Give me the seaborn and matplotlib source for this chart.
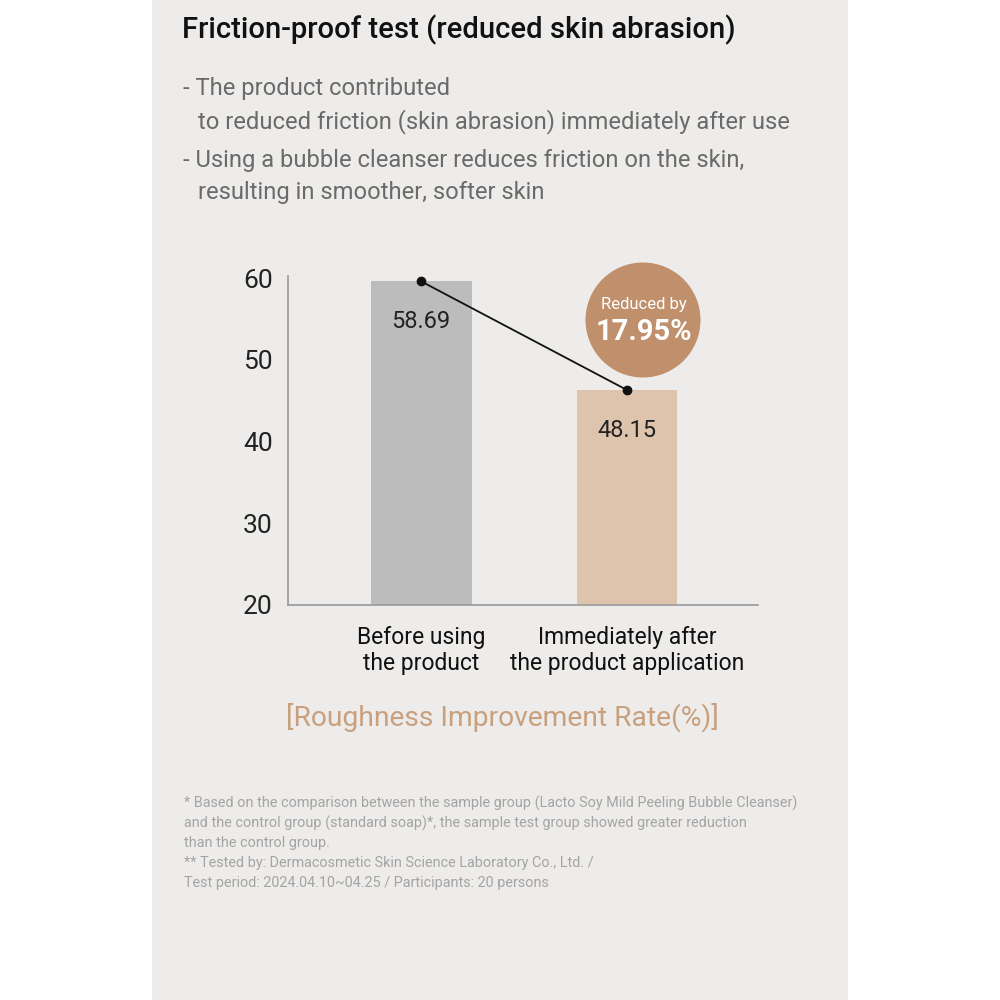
import matplotlib
matplotlib.use("Agg")
import matplotlib.pyplot as plt
from matplotlib.patches import Rectangle, Circle
import seaborn as sns
import pandas as pd

# ---- data ----
categories = ["Before using\nthe product", "Immediately after\nthe product application"]
bar_heights = [59.6, 46.3]          # bar tops as drawn in the picture
value_labels = ["58.69", "48.15"]   # printed values
bar_colors = ["#bcbcbc", "#dfc4ad"]
y_ticks = [20, 30, 40, 50, 60]
reduction_text = ["Reduced by", "17.95%"]
title = "Friction-proof test (reduced skin abrasion)"
bullets = [
    ("- The product contributed", 0),
    ("to reduced friction (skin abrasion) immediately after use", 1),
    ("- Using a bubble cleanser reduces friction on the skin,", 0),
    ("resulting in smoother, softer skin", 1),
]
metric_label = "[Roughness Improvement Rate(%)]"
footnotes = [
    "* Based on the comparison between the sample group (Lacto Soy Mild Peeling Bubble Cleanser)",
    "and the control group (standard soap)*, the sample test group showed greater reduction",
    "than the control group.",
    "** Tested by: Dermacosmetic Skin Science Laboratory Co., Ltd. /",
    "Test period: 2024.04.10~04.25 / Participants: 20 persons",
]

sns.set_theme(style="white")
plt.rcParams["font.family"] = ["Roboto", "DejaVu Sans"]

fig = plt.figure(figsize=(10, 10), dpi=100)
fig.patch.set_facecolor("white")
fig.patches.append(Rectangle((0.152, 0.0), 0.696, 1.0, transform=fig.transFigure,
                             facecolor="#edecea", edgecolor="none", zorder=-10))

ax = fig.add_axes([0.288, 0.395, 0.47, 0.329])
ax.set_facecolor("none")

df = pd.DataFrame({"cat": categories, "val": bar_heights})
sns.barplot(data=df, x="cat", y="val", hue="cat", palette=bar_colors,
            width=0.49, legend=False, ax=ax, saturation=1, linewidth=0,
            edgecolor="none")

ax.set_ylim(20, 60.25)
ax.set_xlim(-0.646, 1.636)
ax.set_yticks(y_ticks)
ax.set_yticklabels([str(t) for t in y_ticks], fontsize=19, color="#222222")
ax.set_xticks(range(len(categories)))
ax.set_xticklabels(categories, fontsize=16.5, color="#111111", linespacing=1.15)
ax.tick_params(axis="y", length=0, pad=11)
ax.tick_params(axis="x", length=0, pad=15)
ax.set_xlabel("")
ax.set_ylabel("")
for s in ["top", "right"]:
    ax.spines[s].set_visible(False)
for s in ["left", "bottom"]:
    ax.spines[s].set_color("#9a9a9a")
    ax.spines[s].set_linewidth(1.2)

# connecting line with dots on bar tops
ax.plot(range(len(categories)), bar_heights, color="#111111", lw=1.3,
        marker="o", ms=6, zorder=5, clip_on=False)

# value labels
for i, (h, lab) in enumerate(zip(bar_heights, value_labels)):
    ax.annotate(lab, xy=(i, h), xytext=(0, -29), textcoords="offset points",
                ha="center", va="center", fontsize=17, color="#222222")

# reduction bubble
fig.patches.append(Circle((0.643, 0.680), 0.0575, transform=fig.transFigure,
                          facecolor="#c08f6b", edgecolor="none", zorder=3))
fig.text(0.644, 0.696, reduction_text[0], ha="center", va="center",
         fontsize=12, color="white", zorder=4)
fig.text(0.644, 0.668, reduction_text[1], ha="center", va="center",
         fontsize=21, color="white", fontweight="bold", zorder=4)

# title and bullets
fig.text(0.182, 0.970, title, ha="left", va="center", fontsize=21.1,
         color="#111111", fontweight="medium")
bullet_y = [0.911, 0.878, 0.840, 0.808]
for (txt, indent), y in zip(bullets, bullet_y):
    fig.text(0.183 + 0.015 * indent, y, txt, ha="left", va="center",
             fontsize=17.1, color="#6a6a6a")

fig.text(0.286, 0.283, metric_label, ha="left", va="center", fontsize=20.3,
         color="#c8a07e")

foot_y = [0.197, 0.177, 0.157, 0.137, 0.117]
for txt, y in zip(footnotes, foot_y):
    fig.text(0.184, y, txt, ha="left", va="center", fontsize=10.4, color="#a4a4a4")

fig.savefig("out.png", dpi=100)
